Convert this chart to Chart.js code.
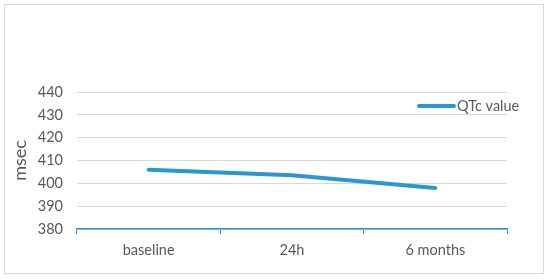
<!DOCTYPE html>
<html>
<head>
<meta charset="utf-8">
<script src="https://cdn.jsdelivr.net/npm/chart.js@4.4.0/dist/chart.umd.min.js"></script>
<style>
html,body{margin:0;padding:0;background:#fff;}
#wrap{width:550px;height:279px;position:relative;}
</style>
</head>
<body>
<div id="wrap"><canvas id="c" width="550" height="279"></canvas></div>
<script>
const categories = ["baseline", "24h", "6 months"];
const qtcValues = [406, 403.5, 398];
const seriesLabel = "QTc value";
const yTicks = [380, 390, 400, 410, 420, 430, 440];
const yTitle = "msec";

const lineColor = "#2b96d4";
const textColor = "#595959";
const fontFamily = "Lato, 'Open Sans', sans-serif";

const framePlugin = {
  id: "frame",
  beforeDraw(chart) {
    const ctx = chart.ctx;
    ctx.save();
    ctx.fillStyle = "#fff";
    ctx.fillRect(0, 0, chart.width, chart.height);
    ctx.strokeStyle = "#d9d9d9";
    ctx.lineWidth = 1;
    ctx.strokeRect(4.5, 4.5, 539, 269);
    ctx.restore();
  }
};

const legendPlugin = {
  id: "inlineLegend",
  afterDatasetsDraw(chart) {
    const ctx = chart.ctx;
    const ds = chart.data.datasets[0];
    ctx.save();
    const y = 106;
    ctx.strokeStyle = ds.borderColor;
    ctx.lineWidth = 4;
    ctx.lineCap = "round";
    ctx.beginPath();
    ctx.moveTo(419, y);
    ctx.lineTo(454, y);
    ctx.stroke();
    ctx.fillStyle = textColor;
    ctx.font = "14.5px " + fontFamily;
    ctx.textBaseline = "middle";
    ctx.textAlign = "left";
    ctx.fillText(ds.label, 457, y);
    ctx.restore();
  }
};

new Chart(document.getElementById("c"), {
  type: "line",
  data: {
    labels: categories,
    datasets: [{
      label: seriesLabel,
      data: qtcValues,
      borderColor: lineColor,
      backgroundColor: lineColor,
      borderWidth: 4,
      pointRadius: 0,
      tension: 0,
      borderCapStyle: "round"
    }]
  },
  options: {
    responsive: false,
    animation: false,
    devicePixelRatio: 1,
    layout: { padding: { top: 92, right: 43, bottom: 0, left: 0 } },
    plugins: { legend: { display: false }, tooltip: { enabled: false } },
    scales: {
      x: {
        offset: true,
        afterFit(s) { s.height = 50; },
        grid: { drawOnChartArea: false, drawTicks: true, tickLength: 5, color: lineColor, offset: true },
        border: { display: true, color: lineColor, width: 1.5 },
        ticks: { color: textColor, font: { family: fontFamily, size: 14.5 }, padding: 8 }
      },
      y: {
        min: 380,
        max: 440,
        afterFit(s) { s.width = 77; },
        afterBuildTicks(s) { s.ticks = yTicks.map(v => ({ value: v })); },
        grid: { color: "#d9d9d9", drawTicks: false, lineWidth: 1 },
        border: { display: false },
        ticks: { color: textColor, font: { family: fontFamily, size: 14.5 }, padding: 14 },
        title: { display: true, text: yTitle, color: textColor, font: { family: fontFamily, size: 18 }, padding: { top: 9, bottom: 0 } }
      }
    }
  },
  plugins: [framePlugin, legendPlugin]
});
</script>
</body>
</html>
